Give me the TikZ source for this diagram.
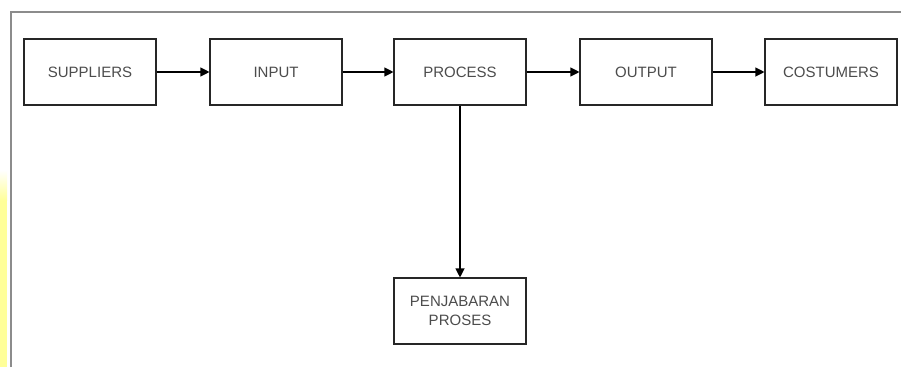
\documentclass[tikz,border=0pt]{standalone}
\usepackage{fontspec}
\setmainfont{Liberation Sans}
\usetikzlibrary{arrows.meta}
\definecolor{frame}{HTML}{8C8C8C}
\definecolor{hl}{HTML}{FFFF99}
\begin{document}
\begin{tikzpicture}[x=1pt,y=-1pt,
  box/.style={draw=black!85,line width=1.1pt,minimum width=132pt,minimum height=66pt,inner sep=0pt,font=\fontsize{15}{18.5}\selectfont,text=black!70,align=center},
  conn/.style={draw=black,line width=1.1pt,-{Triangle[length=9pt,width=9pt]}}]
\useasboundingbox[fill=white] (0,0) rectangle (901,367);
% yellow strip
\fill[hl] (0,200) rectangle (7,367);
\shade[top color=white,bottom color=hl] (0,170) rectangle (7,200.5);
% frame
\draw[frame,line width=2pt] (11,367) -- (11,12) -- (901,12);
\node[box] (sup) at (90,72) {SUPPLIERS};
\node[box] (inp) at (276,72) {INPUT};
\node[box] (pro) at (460,72) {PROCESS};
\node[box] (out) at (646,72) {OUTPUT};
\node[box] (cos) at (831,72) {COSTUMERS};
\node[box] (pen) at (460,311) {PENJABARAN\\PROSES};
\draw[conn] (sup) -- (inp);
\draw[conn] (inp) -- (pro);
\draw[conn] (pro) -- (out);
\draw[conn] (out) -- (cos);
\draw[conn] (pro) -- (pen);
\end{tikzpicture}
\end{document}
